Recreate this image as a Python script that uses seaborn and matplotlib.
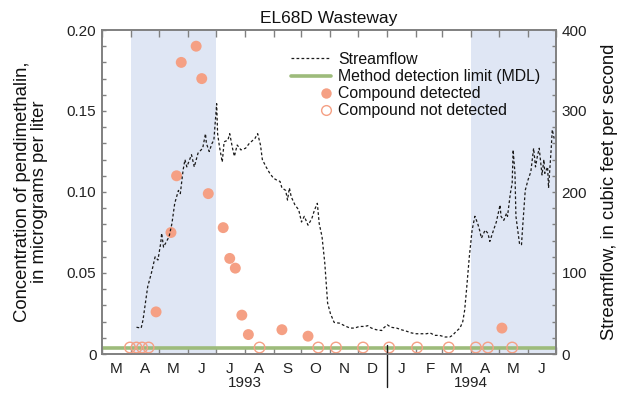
import numpy as np
import pandas as pd
import matplotlib
matplotlib.use("Agg")
import matplotlib.pyplot as plt
import matplotlib.dates as mdates
from matplotlib.ticker import MultipleLocator, FuncFormatter, NullFormatter
from matplotlib.lines import Line2D
from matplotlib.legend_handler import HandlerLine2DCompound
import seaborn as sns

# ---------------- data ----------------
title = "EL68D Wasteway"

flow_dates = (
    ["1993-04-07", "1993-04-12", "1993-04-14", "1993-04-17", "1993-04-19", "1993-04-23", "1993-04-27", "1993-04-30"]
    + ["1993-05-03", "1993-05-04", "1993-05-06", "1993-05-12", "1993-05-15", "1993-05-18", "1993-05-22", "1993-05-24",
       "1993-05-27", "1993-05-29", "1993-05-31"]
    + ["1993-06-03", "1993-06-05", "1993-06-08", "1993-06-12", "1993-06-17", "1993-06-20", "1993-06-21", "1993-06-24",
       "1993-06-27", "1993-06-29"]
    + ["1993-07-02", "1993-07-03", "1993-07-05", "1993-07-08", "1993-07-10", "1993-07-14", "1993-07-16", "1993-07-19",
       "1993-07-21", "1993-07-24", "1993-07-28"]
    + ["1993-08-02", "1993-08-06", "1993-08-12", "1993-08-15", "1993-08-18", "1993-08-20", "1993-08-24", "1993-08-28"]
    + ["1993-09-01", "1993-09-04", "1993-09-08", "1993-09-10", "1993-09-14", "1993-09-16", "1993-09-18", "1993-09-20",
       "1993-09-24", "1993-09-28"]
    + ["1993-10-01", "1993-10-04", "1993-10-08", "1993-10-12", "1993-10-15", "1993-10-18", "1993-10-20", "1993-10-23",
       "1993-10-26", "1993-10-28", "1993-10-29"]
    + ["1993-11-01", "1993-11-05", "1993-11-11", "1993-11-16", "1993-11-22", "1993-11-27"]
    + ["1993-12-02", "1993-12-08", "1993-12-11", "1993-12-15", "1993-12-20", "1993-12-26", "1993-12-28"]
    + ["1994-01-01", "1994-01-05", "1994-01-11", "1994-01-16", "1994-01-22", "1994-01-27"]
    + ["1994-02-01", "1994-02-07", "1994-02-12", "1994-02-16", "1994-02-21", "1994-02-26"]
    + ["1994-03-04", "1994-03-09", "1994-03-12", "1994-03-16", "1994-03-20", "1994-03-23", "1994-03-25", "1994-03-27",
       "1994-03-30"]
    + ["1994-04-02", "1994-04-05", "1994-04-08", "1994-04-10", "1994-04-12", "1994-04-16", "1994-04-19", "1994-04-21",
       "1994-04-25", "1994-04-28"]
    + ["1994-05-02", "1994-05-03", "1994-05-06", "1994-05-09", "1994-05-10", "1994-05-13", "1994-05-15", "1994-05-16",
       "1994-05-18", "1994-05-19", "1994-05-21", "1994-05-23", "1994-05-25", "1994-05-26", "1994-05-29"]
    + ["1994-06-01", "1994-06-04", "1994-06-07", "1994-06-09", "1994-06-11", "1994-06-13", "1994-06-16", "1994-06-18",
       "1994-06-19", "1994-06-22", "1994-06-23", "1994-06-26", "1994-06-27", "1994-06-29"]
)
flow_cfs = (
    [33, 32, 42, 67, 83, 100, 120, 116]
    + [137, 149, 132, 145, 161, 186, 202, 198, 227, 240, 231]
    + [240, 246, 231, 248, 254, 272, 260, 250, 260, 264]
    + [309, 272, 256, 237, 262, 264, 272, 254, 244, 258, 252]
    + [254, 260, 266, 272, 258, 240, 231, 223]
    + [217, 215, 213, 205, 202, 190, 205, 194, 184, 178]
    + [163, 170, 159, 167, 178, 186, 161, 145, 112, 79, 63]
    + [50, 39, 38, 35, 32, 32]
    + [34, 34, 35, 32, 30, 29, 32]
    + [36, 33, 32, 30, 28, 26]
    + [25, 25, 25, 26, 23, 23]
    + [21, 21, 23, 28, 32, 40, 54, 79, 120]
    + [153, 170, 161, 153, 143, 153, 149, 139, 153, 163]
    + [184, 170, 165, 174, 170, 198, 211, 252, 223, 170, 153, 135, 135, 153, 202]
    + [215, 225, 254, 231, 244, 254, 221, 240, 223, 231, 205, 256, 277, 266]
)

detected_dates = ["1993-04-28", "1993-05-14", "1993-05-20", "1993-05-25", "1993-06-10", "1993-06-16",
                  "1993-06-23", "1993-07-09", "1993-07-16", "1993-07-22", "1993-07-29", "1993-08-05",
                  "1993-09-10", "1993-10-08", "1994-05-04"]
detected_conc = [0.026, 0.075, 0.110, 0.180, 0.190, 0.170, 0.099, 0.078, 0.059, 0.053, 0.024, 0.012,
                 0.015, 0.011, 0.016]

not_detected_dates = ["1993-03-31", "1993-04-07", "1993-04-13", "1993-04-20", "1993-08-17", "1993-10-19",
                      "1993-11-07", "1993-12-06", "1994-01-03", "1994-02-02", "1994-03-08", "1994-04-06",
                      "1994-04-19", "1994-05-15"]
mdl = 0.004

month_labels = ["M", "A", "M", "J", "J", "A", "S", "O", "N", "D", "J", "F", "M", "A", "M", "J"]
year_labels = ["1993", "1994"]
year_label_dates = ["1993-08-01", "1994-04-01"]
year_break = "1994-01-01"
x_start, x_end = "1993-03-01", "1994-07-01"
shade_periods = [("1993-04-01", "1993-07-01"), ("1994-04-01", "1994-07-01")]

legend_labels = ["Streamflow", "Method detection limit (MDL)", "Compound detected", "Compound not detected"]
left_label = "Concentration of pendimethalin,\nin micrograms per liter"
right_label = "Streamflow, in cubic feet per second"

# ---------------- style ----------------
sns.set_style("ticks")
plt.rcParams['font.family'] = ['Liberation Sans', 'DejaVu Sans']
plt.rcParams['axes.edgecolor'] = '#808080'
plt.rcParams['xtick.color'] = '#808080'
plt.rcParams['ytick.color'] = '#808080'
plt.rcParams['xtick.labelcolor'] = '#222222'
plt.rcParams['ytick.labelcolor'] = '#222222'

salmon = '#f5a084'
green = '#9dbb7b'
shade = '#dfe6f4'
ink = '#1a1a1a'

fig = plt.figure(figsize=(6.23, 4.04), dpi=100)
ax = fig.add_axes([102 / 623, 50 / 404, 454 / 623, 324 / 404])
ax2 = ax.twinx()

for s, e in shade_periods:
    ax.axvspan(pd.Timestamp(s), pd.Timestamp(e), color=shade, lw=0, zorder=0)

ax.axhline(mdl, color=green, lw=2.6, zorder=2)

det_df = pd.DataFrame({"date": pd.to_datetime(detected_dates), "conc": detected_conc})
nd_df = pd.DataFrame({"date": pd.to_datetime(not_detected_dates), "conc": [mdl] * len(not_detected_dates)})
flow_df = pd.DataFrame({"date": pd.to_datetime(flow_dates), "cfs": flow_cfs})

sns.scatterplot(data=det_df, x="date", y="conc", ax=ax, color=salmon, edgecolor='none',
                s=62, linewidth=0, zorder=4, legend=False)
sns.scatterplot(data=nd_df, x="date", y="conc", ax=ax, facecolor='none', edgecolor=salmon,
                s=58, linewidth=1.0, zorder=4, legend=False)

sns.lineplot(data=flow_df, x="date", y="cfs", ax=ax2, color=ink, lw=0.9,
             linestyle=(0, (2.2, 1.8)), errorbar=None, legend=False)

# ---------------- axes ----------------
ax.set_xlim(pd.Timestamp(x_start), pd.Timestamp(x_end))
ax.set_ylim(0, 0.20)
ax2.set_ylim(0, 400)

ax.yaxis.set_major_locator(MultipleLocator(0.05))
ax.yaxis.set_minor_locator(MultipleLocator(0.01))
ax.yaxis.set_major_formatter(FuncFormatter(lambda v, p: "0" if abs(v) < 1e-9 else f"{v:.2f}"))
ax2.yaxis.set_major_locator(MultipleLocator(100))
ax2.yaxis.set_minor_locator(MultipleLocator(20))
ax2.yaxis.set_major_formatter(FuncFormatter(lambda v, p: f"{v:.0f}"))

ax.xaxis.set_major_locator(mdates.MonthLocator())
ax.xaxis.set_major_formatter(NullFormatter())
mid_months = pd.date_range(x_start, periods=len(month_labels), freq="MS") + pd.Timedelta(days=15)
ax.set_xticks(mid_months, minor=True)
ax.set_xticklabels(month_labels, minor=True)

ax.tick_params(axis='x', which='major', direction='in', length=5, width=1, top=True, bottom=True)
ax.tick_params(axis='x', which='minor', length=0, labelsize=11, pad=6)
ax.tick_params(axis='y', which='both', direction='in', length=3.2, width=1, labelsize=11, pad=4)
ax2.tick_params(axis='y', which='both', direction='in', length=3.2, width=1, labelsize=11, pad=4)

for sp in list(ax.spines.values()) + list(ax2.spines.values()):
    sp.set_linewidth(1.2)
    sp.set_color('#808080')

ax.set_xlabel("")
ax.set_ylabel("")
ax2.set_ylabel("")

# year separator and labels
ax.axvline(pd.Timestamp(year_break), ymin=-0.103, ymax=0.028, color=ink, lw=1, clip_on=False, zorder=5)
trans = ax.get_xaxis_transform()
for lab, d in zip(year_labels, year_label_dates):
    ax.text(pd.Timestamp(d), -0.09, lab, transform=trans, ha='center', va='center', fontsize=11, color='#222222')

ax.set_title(title, fontsize=12.5, color='#111111', pad=5)

fig.text(31 / 623, 1 - 192 / 404, left_label, rotation=90, ha='center', va='center',
         fontsize=13.3, linespacing=1.05, color='#111111', multialignment='center')
fig.text(609 / 623, 1 - 192 / 404, right_label, rotation=90, ha='center', va='center',
         fontsize=13.3, color='#111111')


# ---------------- legend ----------------
class RightMarker(HandlerLine2DCompound):
    def get_xdata(self, legend, xdescent, ydescent, width, height, fontsize):
        xdata, _ = super().get_xdata(legend, xdescent, ydescent, width, height, fontsize)
        return xdata, np.array([-xdescent + width - 0.3 * fontsize])


handles = [
    Line2D([], [], color=ink, lw=0.9, linestyle=(0, (2.2, 1.8))),
    Line2D([], [], color=green, lw=2.6),
    Line2D([], [], marker='o', ls='none', markerfacecolor=salmon, markeredgecolor='none', markersize=7.5),
    Line2D([], [], marker='o', ls='none', markerfacecolor='none', markeredgecolor=salmon, markersize=7,
           markeredgewidth=1.0),
]
leg = ax2.legend(handles, legend_labels, loc='upper left', bbox_to_anchor=(291 / 623, 1 - 52 / 404),
                 bbox_transform=fig.transFigure, frameon=False, fontsize=11.4, borderpad=0, borderaxespad=0,
                 handlelength=2.5, handletextpad=0.5, labelspacing=0.13, numpoints=1,
                 handler_map={handles[2]: RightMarker(), handles[3]: RightMarker()})
for t in leg.get_texts():
    t.set_color('#111111')

fig.savefig("out.png", dpi=100)
